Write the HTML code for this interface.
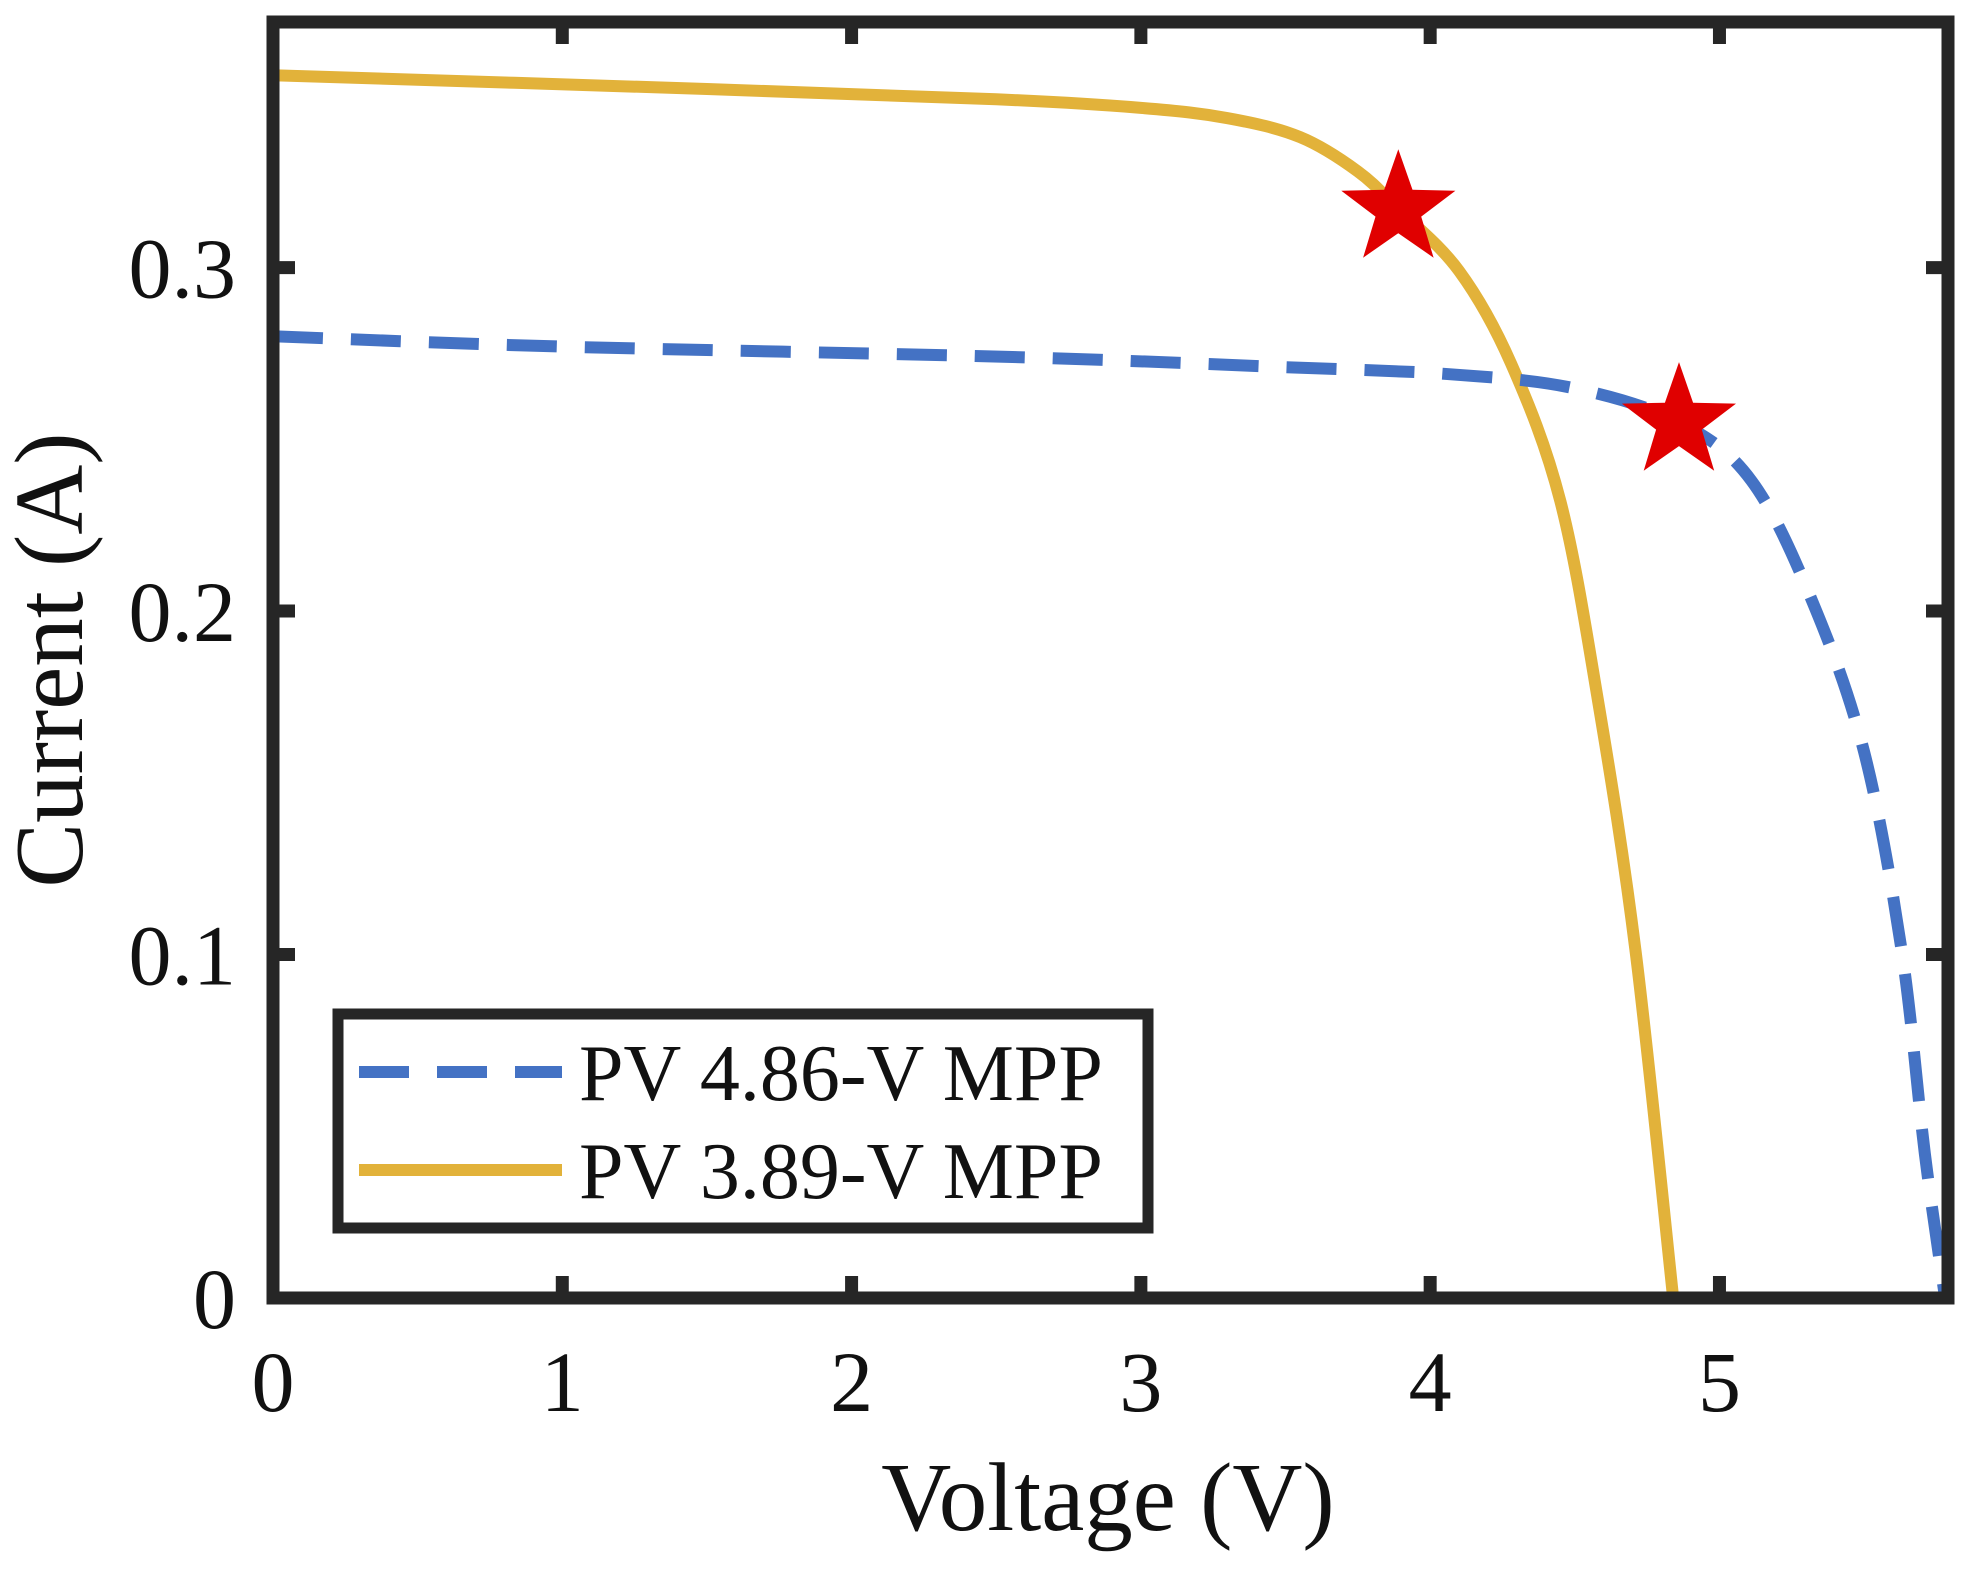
<!DOCTYPE html>
<html><head><meta charset="utf-8"><style>
html,body{margin:0;padding:0;background:#fff;}
svg{display:block;font-family:"Liberation Serif",serif;}
</style></head><body>
<svg id="chart" width="1974" height="1571" viewBox="0 0 1974 1571" xmlns="http://www.w3.org/2000/svg">
<defs><clipPath id="clip"><rect x="273" y="22" width="1675" height="1276"/></clipPath></defs>
<g id="plot" clip-path="url(#clip)"></g>
<g id="axes"></g>
<g id="legend"></g>
</svg>
<script>
const xTicks=[0,1,2,3,4,5];
const yTicks=[0,0.1,0.2,0.3];
const yTickLabels=["0","0.1","0.2","0.3"];
const blueV=[0,1.0,2.54,3.5,4.06,4.49,4.86,5.11,5.32,5.50,5.63,5.71,5.78];
const blueI=[0.280,0.277,0.274,0.271,0.269,0.265,0.255,0.238,0.203,0.159,0.101,0.042,0];
const yellowV=[0,1.5,2.5,3.0,3.3,3.55,3.75,3.89,4.10,4.28,4.45,4.58,4.71,4.84];
const yellowI=[0.356,0.352,0.349,0.3465,0.3435,0.338,0.328,0.317,0.299,0.272,0.232,0.174,0.101,0];
const mppV=[4.86,3.89];
const mppI=[0.255,0.317];
const legendLabels=["PV 4.86-V MPP","PV 3.89-V MPP"];

const NS="http://www.w3.org/2000/svg";
const X0=273,X1=1948,Y0=1298,Y1=22;
const xMin=0,xMax=5.79,yMin=0,yMax=0.3715;
function sx(v){return X0+(v-xMin)/(xMax-xMin)*(X1-X0);}
function sy(v){return Y0-(v-yMin)/(yMax-yMin)*(Y0-Y1);}
function mk(tag,attrs,parent){const e=document.createElementNS(NS,tag);for(const k in attrs)e.setAttribute(k,attrs[k]);parent.appendChild(e);return e;}
function smoothPath(xs,ys){
  const p=xs.map((v,i)=>[sx(v),sy(ys[i])]);
  let d="M"+p[0][0]+","+p[0][1];
  for(let i=0;i<p.length-1;i++){
    const a=p[Math.max(0,i-1)],b=p[i],c=p[i+1],e=p[Math.min(p.length-1,i+2)];
    const c1=[b[0]+(c[0]-a[0])/6,b[1]+(c[1]-a[1])/6];
    const c2=[c[0]-(e[0]-b[0])/6,c[1]-(e[1]-b[1])/6];
    d+=" C"+c1[0]+","+c1[1]+" "+c2[0]+","+c2[1]+" "+c[0]+","+c[1];
  }
  return d;
}
function starPts(cx,cy,R,r){let s=[];for(let i=0;i<10;i++){const a=-Math.PI/2+i*Math.PI/5;const rr=i%2?r:R;s.push((cx+rr*Math.cos(a)).toFixed(1)+","+(cy+rr*Math.sin(a)).toFixed(1));}return s.join(" ");}
const plot=document.getElementById('plot'),axes=document.getElementById('axes'),legend=document.getElementById('legend');

const yl=mk('path',{d:smoothPath(yellowV,yellowI),fill:'none',stroke:'#E2B23A','stroke-width':12},plot);


const bl=mk('path',{d:smoothPath(blueV,blueI),fill:'none',stroke:'#4472C4','stroke-width':12,'stroke-dasharray':'50 28'},plot);


mppV.forEach((v,i)=>{
  const s=mk('polygon',{points:starPts(sx(v),sy(mppI[i]),60,24),fill:'#E00000'},plot);
  
  
});

const fr=mk('rect',{x:X0,y:Y1,width:X1-X0,height:Y0-Y1,fill:'none',stroke:'#262626','stroke-width':13},axes);


xTicks.forEach(t=>{
  const x=sx(t);
  mk('line',{x1:x,y1:Y0,x2:x,y2:Y0-22,stroke:'#262626','stroke-width':13},axes);
  mk('line',{x1:x,y1:Y1,x2:x,y2:Y1+22,stroke:'#262626','stroke-width':13},axes);
  const tx=mk('text',{x:x,y:1411,'font-size':86,'text-anchor':'middle',fill:'#111'},axes);
  tx.textContent=String(t);
  
  
});
yTicks.forEach((t,i)=>{
  const y=sy(t);
  mk('line',{x1:X0,y1:y,x2:X0+22,y2:y,stroke:'#262626','stroke-width':13},axes);
  mk('line',{x1:X1,y1:y,x2:X1-22,y2:y,stroke:'#262626','stroke-width':13},axes);
  const tx=mk('text',{x:236,y:y+30,'font-size':86,'text-anchor':'end',fill:'#111'},axes);
  tx.textContent=yTickLabels[i];
  
  
});
const xt=mk('text',{x:1108,y:1530,'font-size':97,'text-anchor':'middle',fill:'#111'},axes);
xt.textContent='Voltage (V)';


const ytt=mk('text',{x:0,y:0,'font-size':97,'text-anchor':'middle',fill:'#111',transform:'translate(82,660) rotate(-90)'},axes);
ytt.textContent='Current (A)';



const lb=mk('rect',{x:338,y:1014,width:810,height:214,fill:'#fff',stroke:'#262626','stroke-width':11},legend);


const rows=[1072,1170];
const styles=[{stroke:'#4472C4',dash:'50 28'},{stroke:'#E2B23A',dash:'none'}];
legendLabels.forEach((lab,i)=>{
  const g=mk('g',{},legend);
  
  
  mk('line',{x1:359,y1:rows[i],x2:562,y2:rows[i],stroke:styles[i].stroke,'stroke-width':12,'stroke-dasharray':styles[i].dash},g);
  const t=mk('text',{x:579,y:rows[i]+28,'font-size':80,fill:'#111'},g);
  t.textContent=lab;
});
</script>
</body></html>
